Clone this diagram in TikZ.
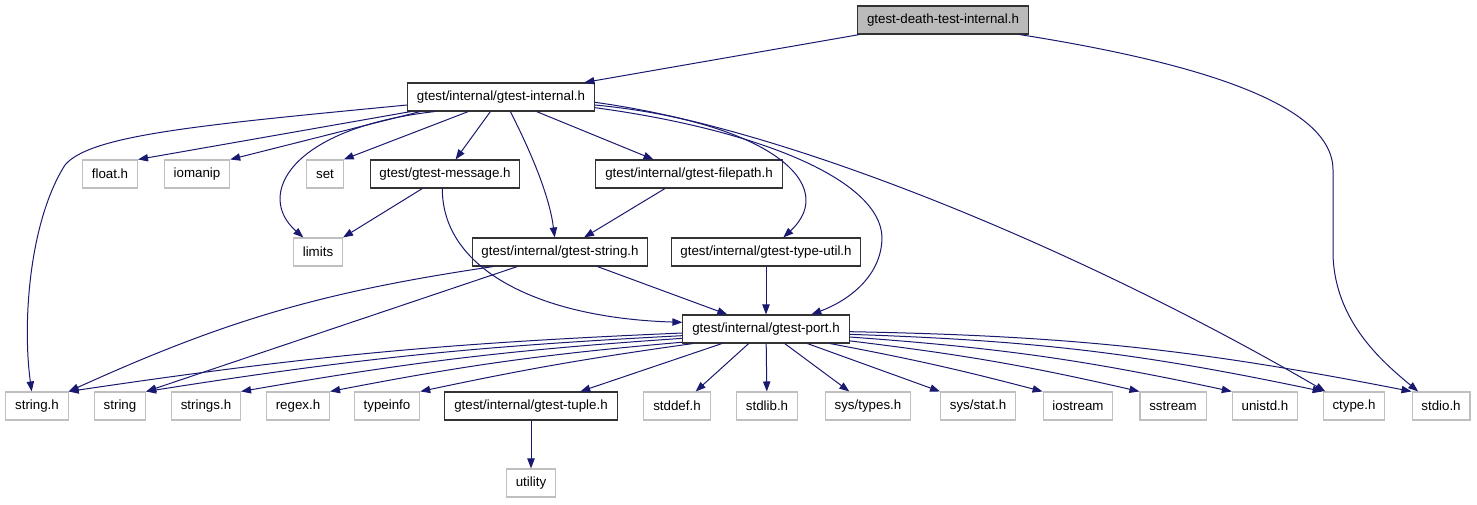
\documentclass[tikz,border=0pt]{standalone}
\usepackage{fontspec}
\setmainfont{Liberation Sans}
\usetikzlibrary{arrows.meta}
\definecolor{edgeblue}{HTML}{191970}
\begin{document}
\begin{tikzpicture}[x=0.75pt, y=-0.75pt,
    box/.style={draw, font=\fontsize{10}{12}\selectfont, inner xsep=7pt, inner ysep=0pt, minimum height=21pt, line width=0.8pt},
    hdr/.style={box, draw=black!80},
    sys/.style={box, draw=black!25},
    root/.style={box, draw=black!80, fill=black!27},
    dep/.style={draw=edgeblue, line width=0.75pt, -{Triangle[length=7.5pt,width=5.5pt]}}]
    \useasboundingbox (0,0) rectangle (1477,504);
    \node[root] (death) at (943,20) {gtest-death-test-internal.h};
    \node[hdr] (internal) at (501,97) {gtest/internal/gtest-internal.h};
    \node[sys] (float) at (110,174) {float.h};
    \node[sys] (iomanip) at (197,174) {iomanip};
    \node[sys] (set) at (325,174) {set};
    \node[hdr] (message) at (445,174) {gtest/gtest-message.h};
    \node[hdr] (filepath) at (689,174) {gtest/internal/gtest-filepath.h};
    \node[sys] (limits) at (318,252) {limits};
    \node[hdr] (gstring) at (560,252) {gtest/internal/gtest-string.h};
    \node[hdr] (typeutil) at (766,252) {gtest/internal/gtest-type-util.h};
    \node[hdr] (port) at (766,329) {gtest/internal/gtest-port.h};
    \node[sys] (stringh) at (37,406) {string.h};
    \node[sys] (string) at (120,406) {string};
    \node[sys] (strings) at (206,406) {strings.h};
    \node[sys] (regex) at (298,406) {regex.h};
    \node[sys] (typeinfo) at (387,406) {typeinfo};
    \node[hdr] (tuple) at (531,406) {gtest/internal/gtest-tuple.h};
    \node[sys] (stddef) at (677,406) {stddef.h};
    \node[sys] (stdlib) at (767,406) {stdlib.h};
    \node[sys] (systypes) at (868,406) {sys/types.h};
    \node[sys] (sysstat) at (978,406) {sys/stat.h};
    \node[sys] (iostream) at (1078,406) {iostream};
    \node[sys] (sstream) at (1173,406) {sstream};
    \node[sys] (unistd) at (1265,406) {unistd.h};
    \node[sys] (ctype) at (1354,406) {ctype.h};
    \node[sys] (stdio) at (1441,406) {stdio.h};
    \node[sys] (utility) at (531,483) {utility};
    \draw[dep] (death) -- (internal);
    \draw[dep] ([xshift=-7pt]death.south east) .. controls (1180,60) and (1333,100) .. (1333,170) -- (1333,255) .. controls (1335,320) and (1380,360) .. ([xshift=5pt]stdio.north west);
    \draw[dep] ([yshift=-6pt]internal.west) .. controls (200,125) and (90,135) .. (65,165) .. controls (30,220) and (22,320) .. ([xshift=-4pt]stringh.north);
    \draw[dep] ([xshift=3pt]internal.south west) -- (float.north east);
    \draw[dep] ([xshift=10pt]internal.south west) -- (iomanip.north east);
    \draw[dep] ([xshift=21pt]internal.south west) .. controls (290,128) and (255,195) .. ([xshift=-11pt]limits.north);
    \draw[dep] ([xshift=46pt]internal.south west) -- (set.north east);
    \draw[dep] (internal) -- (message);
    \draw[dep] ([xshift=7pt]internal.south) .. controls (535,160) and (550,200) .. ([xshift=-4pt]gstring.north);
    \draw[dep] (internal) -- (filepath);
    \draw[dep] ([yshift=-6pt]internal.east) .. controls (770,122) and (840,185) .. ([xshift=13pt]typeutil.north);
    \draw[dep] ([yshift=-8pt]internal.east) .. controls (760,130) and (880,180) .. (882,237) .. controls (882,275) and (850,300) .. ([xshift=34pt]port.north);
    \draw[dep] ([yshift=-4pt]internal.east) .. controls (800,130) and (1100,260) .. ([xshift=2pt]ctype.north west);
    \draw[dep] ([xshift=-17pt]message.south) -- (limits.north east);
    \draw[dep] ([xshift=-2pt]message.south) .. controls (442,270) and (540,318) .. ([yshift=5pt]port.west);
    \draw[dep] (filepath) -- (gstring);
    \draw[dep] ([xshift=-50pt]gstring.south) to[bend right=8] (stringh.north east);
    \draw[dep] ([xshift=-32pt]gstring.south) -- (string.north east);
    \draw[dep] ([xshift=28pt]gstring.south) -- ([xshift=-29pt]port.north);
    \draw[dep] (typeutil) -- (port);
    \draw[dep] ([yshift=-3pt]port.west) to[bend right=3] (stringh.north east);
    \draw[dep] ([yshift=-5pt]port.west) to[bend right=3] (string.north east);
    \draw[dep] ([yshift=-7pt]port.west) to[bend right=3] (strings.north east);
    \draw[dep] ([yshift=1pt]port.south west) to[bend right=3] (regex.north east);
    \draw[dep] ([xshift=8pt]port.south west) to[bend right=2] (typeinfo.north east);
    \draw[dep] ([xshift=-33pt]port.south) -- ([xshift=37pt]tuple.north);
    \draw[dep] ([xshift=-13pt]port.south) -- ([xshift=14pt]stddef.north);
    \draw[dep] (port) -- (stdlib);
    \draw[dep] ([xshift=14pt]port.south) -- ([xshift=-14pt]systypes.north);
    \draw[dep] ([xshift=31pt]port.south) -- (sysstat.north west);
    \draw[dep] ([xshift=48pt]port.south) to[bend left=2] (iostream.north west);
    \draw[dep] ([yshift=2pt]port.south east) to[bend left=3] (sstream.north west);
    \draw[dep] ([yshift=-6pt]port.east) to[bend left=4] (unistd.north west);
    \draw[dep] ([yshift=-4pt]port.east) to[bend left=5] (ctype.north west);
    \draw[dep] ([yshift=-2pt]port.east) to[bend left=5] (stdio.north west);
    \draw[dep] (tuple) -- (utility);
\end{tikzpicture}
\end{document}
